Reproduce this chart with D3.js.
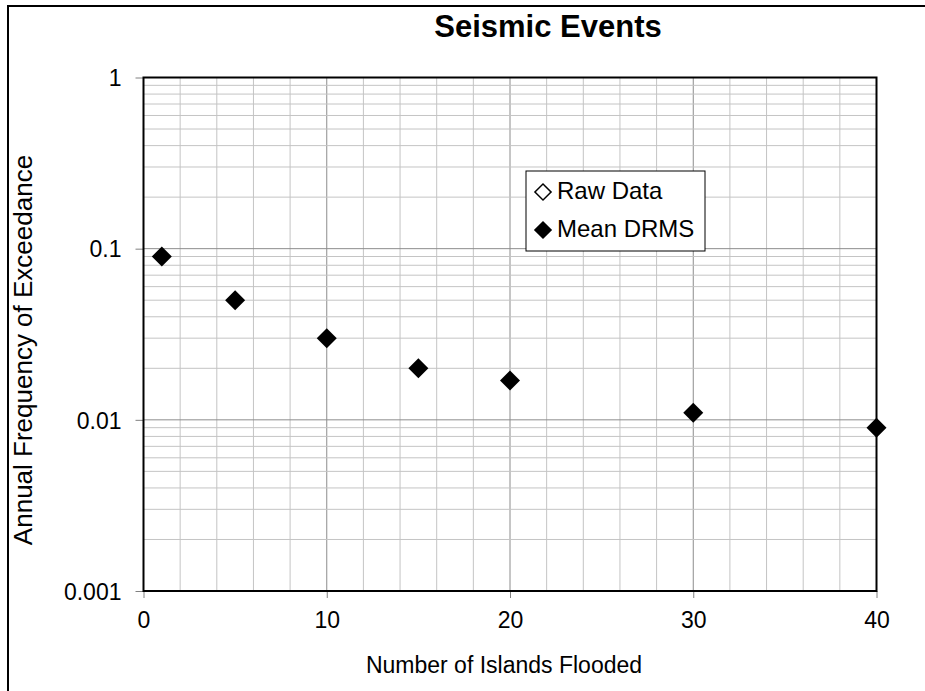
<html>
<head>
  <title>Seismic Events</title>
  <script src="https://d3js.org/d3.v7.min.js"></script>
  <style>
    body { margin: 0; background: #fff; }
    text { font-family: 'Liberation Sans', Arial, sans-serif; fill: #000; }
  </style>
</head>
<body>
  <div id="chart"></div>
  <script type="text/javascript">

    // Data
    var islands = [1, 5, 10, 15, 20, 30, 40];
    var meanDrms = [0.09, 0.05, 0.03, 0.02, 0.017, 0.011, 0.009];
    var rawData = [];   // no raw points visible in the picture
    var xTicks = [0, 10, 20, 30, 40];
    var yTicks = [0.001, 0.01, 0.1, 1];
    var legendLabels = ['Raw Data', 'Mean DRMS'];

    var W = 925, H = 691;
    var plot = {left: 143.5, top: 77.5, right: 876.5, bottom: 591};

    var x = d3.scaleLinear().domain([0, 40]).range([plot.left, plot.right]);
    var y = d3.scaleLog().domain([0.001, 1]).range([plot.bottom, plot.top]);

    var svg = d3.select('#chart').append('svg')
                .attr('width', W)
                .attr('height', H);

    // outer chart border (runs off the page right and bottom)
    svg.append('rect')
       .attr('x', 8).attr('y', 6)
       .attr('width', 1000).attr('height', 1000)
       .style('fill', '#fff')
       .style('stroke', '#000')
       .style('stroke-width', 2);

    // grid lines
    var xMinor = d3.range(0, 41, 2);
    svg.append('g').selectAll('line')
       .data(xMinor)
       .enter().append('line')
         .attr('x1', function(d) { return x(d); })
         .attr('x2', function(d) { return x(d); })
         .attr('y1', plot.top).attr('y2', plot.bottom)
         .style('stroke', function(d) { return d % 10 === 0 ? '#8c8c8c' : '#c4c4c4'; })
         .style('stroke-width', 1);

    var yMinor = [];
    [0.001, 0.01, 0.1].forEach(function(dec) {
      for (var k = 1; k <= 9; k++) yMinor.push(dec * k);
    });
    svg.append('g').selectAll('line')
       .data(yMinor)
       .enter().append('line')
         .attr('x1', plot.left).attr('x2', plot.right)
         .attr('y1', function(d) { return y(d); })
         .attr('y2', function(d) { return y(d); })
         .style('stroke', function(d, i) { return i % 9 === 0 ? '#8c8c8c' : '#c4c4c4'; })
         .style('stroke-width', 1);

    // axes
    var xAxis = d3.axisBottom(x).tickValues(xTicks).tickSize(7).tickPadding(14).tickFormat(d3.format('d'));
    var yAxis = d3.axisLeft(y).tickValues(yTicks).tickSize(8).tickPadding(14).tickFormat(function(d) { return String(+d.toPrecision(1)); });

    var gx = svg.append('g')
                .attr('transform', 'translate(0,' + plot.bottom + ')')
                .call(xAxis);
    var gy = svg.append('g')
                .attr('transform', 'translate(' + plot.left + ',0)')
                .call(yAxis);
    [gx, gy].forEach(function(g) {
      g.select('.domain').remove();
      g.selectAll('.tick line').style('stroke', '#808080');
      g.selectAll('.tick text')
       .style('font-family', "'Liberation Sans', Arial, sans-serif")
       .style('font-size', '23px')
       .style('fill', '#000');
    });
    gy.selectAll('.tick text').attr('dy', '0.36em');

    // plot frame
    svg.append('rect')
       .attr('x', plot.left).attr('y', plot.top)
       .attr('width', plot.right - plot.left)
       .attr('height', plot.bottom - plot.top)
       .style('fill', 'none')
       .style('stroke', '#000')
       .style('stroke-width', 2);

    // markers
    var diamond = d3.symbol().type(d3.symbolSquare).size(200);
    var pts = islands.map(function(d, i) { return {x: d, y: meanDrms[i]}; });

    svg.append('g').selectAll('path.raw')
       .data(rawData)
       .enter().append('path')
         .attr('class', 'raw')
         .attr('d', diamond)
         .attr('transform', function(d) { return 'translate(' + x(d.x) + ',' + y(d.y) + ') rotate(45)'; })
         .style('fill', '#fff').style('stroke', '#000');

    svg.append('g').selectAll('path.drms')
       .data(pts)
       .enter().append('path')
         .attr('class', 'drms')
         .attr('d', diamond)
         .attr('transform', function(d) { return 'translate(' + x(d.x) + ',' + y(d.y) + ') rotate(45)'; })
         .style('fill', '#000');

    // titles
    svg.append('text')
       .text('Seismic Events')
       .attr('x', 548).attr('y', 37)
       .attr('text-anchor', 'middle')
       .style('font-size', '31px')
       .style('font-weight', 'bold');

    svg.append('text')
       .text('Number of Islands Flooded')
       .attr('x', 504).attr('y', 673)
       .attr('text-anchor', 'middle')
       .style('font-size', '23px');

    svg.append('text')
       .text('Annual Frequency of Exceedance')
       .attr('transform', 'translate(32,350) rotate(-90)')
       .attr('text-anchor', 'middle')
       .style('font-size', '26px');

    // legend
    var lg = svg.append('g');
    lg.append('rect')
      .attr('x', 526).attr('y', 171)
      .attr('width', 179).attr('height', 80)
      .style('fill', '#fff')
      .style('stroke', '#000')
      .style('stroke-width', 1);

    var legendSym = d3.symbol().type(d3.symbolSquare).size(130);
    var items = lg.selectAll('g.item')
                  .data(legendLabels)
                  .enter().append('g')
                    .attr('class', 'item')
                    .attr('transform', function(d, i) { return 'translate(0,' + (i * 38) + ')'; });
    items.append('path')
         .attr('d', legendSym)
         .attr('transform', 'translate(543,192) rotate(45)')
         .style('fill', function(d, i) { return i === 0 ? '#fff' : '#000'; })
         .style('stroke', '#000')
         .style('stroke-width', 1.5);
    items.append('text')
         .text(function(d) { return d; })
         .attr('x', 557).attr('y', 199)
         .style('font-size', '24px');

  </script>
</body>
</html>
